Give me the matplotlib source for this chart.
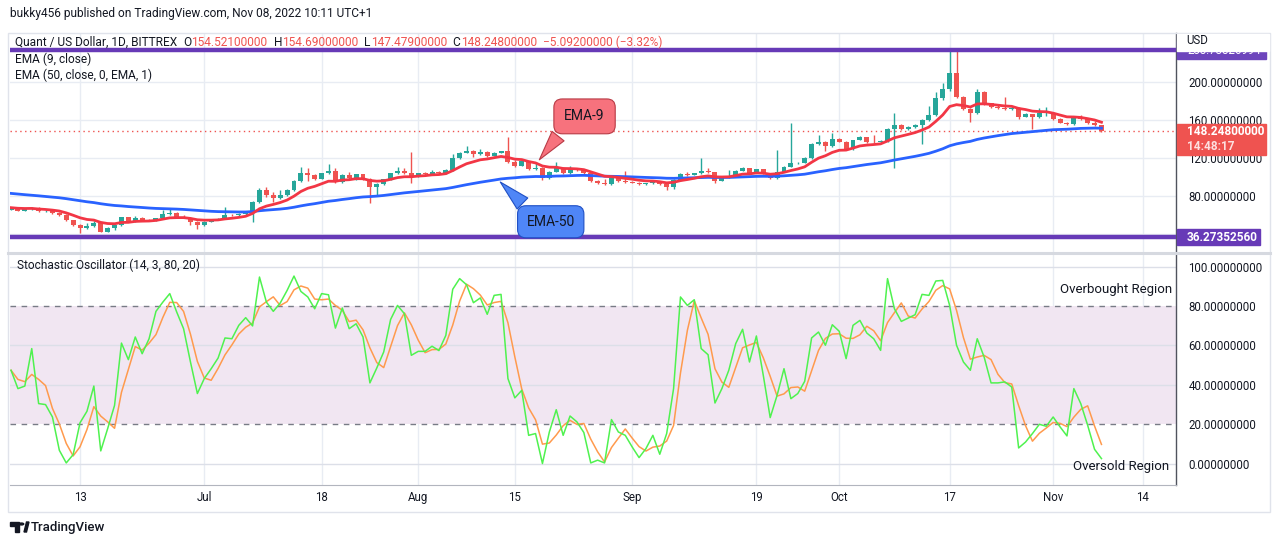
import numpy as np
import pandas as pd
import matplotlib
matplotlib.use('Agg')
import matplotlib.pyplot as plt
from matplotlib.patches import Rectangle, Circle, Polygon
from matplotlib.lines import Line2D

plt.rcParams['font.family'] = ['Roboto', 'DejaVu Sans']

W, H = 1280, 546

# ---- data (QNT/USD daily, Bittrex) ----
dates = pd.date_range('2022-06-03', '2022-11-08', freq='D')
first_open = 65.3
closes = [
    65.9, 64.2, 65.6, 67.0, 63.5, 63.5, 62.1, 60.0, 54.0, 49.4,
    45.9, 48.0, 51.5, 42.0, 45.9, 49.4, 57.1, 52.5, 56.8, 54.3,
    53.8, 56.4, 60.7, 62.1, 57.8, 57.0, 52.5, 49.0, 52.5, 54.3,
    55.4, 59.6, 59.2, 60.7, 63.1, 73.3, 86.0, 80.4, 77.9, 80.8,
    86.1, 95.9, 104.4, 101.6, 98.0, 103.7, 106.2, 94.9, 101.9, 98.4,
    102.6, 97.7, 88.9, 92.4, 97.3, 103.7, 106.5, 103.7, 100.2, 103.7,
    103.0, 105.5, 103.7, 107.2, 119.6, 125.6, 127.7, 124.1, 126.6, 122.4,
    125.6, 127.0, 116.0, 111.8, 116.4, 107.9, 109.0, 98.4, 105.4, 109.7,
    103.7, 108.3, 107.2, 104.4, 95.9, 93.1, 92.0, 98.4, 95.9, 94.9,
    93.8, 92.0, 93.1, 94.9, 92.0, 88.9, 96.6, 103.0, 101.9, 103.7,
    106.5, 104.7, 95.9, 99.4, 100.8, 106.5, 109.0, 104.4, 107.9, 103.0,
    98.4, 105.4, 110.7, 114.3, 115.0, 119.6, 134.7, 137.2, 132.6, 140.0,
    137.2, 129.1, 138.9, 141.8, 137.2, 136.5, 137.8, 150.2, 154.8, 150.2,
    152.3, 154.5, 160.1, 165.4, 183.0, 192.5, 210.2, 184.1, 171.7, 167.9,
    190.1, 177.7, 174.2, 172.8, 171.5, 173.0, 163.6, 166.4, 162.9, 167.2,
    168.0, 161.5, 157.3, 155.9, 162.9, 160.8, 156.6, 154.52, 148.248,
]
highs = [
    67.0, 66.8, 66.5, 68.0, 67.8, 65.0, 64.5, 62.8, 60.5, 54.5,
    50.0, 51.0, 53.0, 52.0, 47.0, 50.5, 57.8, 57.5, 59.0, 57.5,
    55.0, 57.0, 65.0, 65.5, 62.5, 60.0, 57.5, 53.0, 53.5, 55.0,
    56.0, 68.5, 60.5, 61.5, 64.0, 74.0, 88.0, 89.5, 83.5, 86.5,
    87.0, 96.5, 110.0, 109.0, 102.5, 104.5, 114.0, 109.0, 102.5, 105.5,
    103.5, 103.0, 98.5, 93.0, 98.0, 104.5, 110.5, 109.0, 126.6, 104.5,
    105.0, 107.0, 106.5, 108.0, 124.5, 126.5, 132.5, 128.7, 129.0, 127.5,
    126.5, 127.5, 142.5, 118.0, 117.0, 117.0, 116.0, 110.5, 106.0, 116.0,
    110.5, 111.5, 109.5, 108.0, 105.0, 96.5, 97.5, 99.0, 99.0, 106.0,
    96.0, 94.5, 93.8, 95.5, 95.5, 92.5, 97.5, 104.5, 105.5, 104.5,
    119.5, 109.0, 105.5, 100.5, 107.0, 107.5, 110.5, 109.5, 108.5, 108.5,
    104.0, 128.4, 111.5, 157.3, 116.0, 121.0, 135.5, 144.0, 138.0, 146.0,
    141.5, 138.0, 139.5, 143.0, 142.5, 144.5, 138.5, 151.5, 167.2, 156.0,
    153.5, 156.0, 161.5, 175.0, 190.0, 199.0, 234.2, 233.1, 186.0, 173.0,
    192.5, 191.0, 178.5, 176.0, 184.0, 174.0, 174.0, 167.5, 167.0, 172.5,
    173.5, 168.5, 162.0, 158.5, 163.5, 165.0, 161.5, 159.0, 154.69,
]
lows = [
    64.8, 63.5, 63.8, 65.0, 62.8, 62.5, 61.0, 59.0, 53.5, 48.5,
    41.0, 45.0, 46.5, 41.5, 41.5, 44.0, 48.5, 52.0, 52.0, 53.8,
    53.0, 53.5, 56.0, 60.0, 57.0, 56.5, 49.5, 44.5, 48.5, 52.0,
    54.0, 55.0, 58.5, 58.8, 60.0, 52.5, 72.5, 79.0, 73.0, 77.0,
    80.0, 85.5, 95.0, 96.0, 97.0, 97.5, 103.0, 93.0, 94.0, 97.5,
    97.0, 96.5, 72.7, 81.0, 91.5, 96.5, 103.0, 103.0, 94.0, 99.5,
    100.5, 102.5, 103.0, 103.0, 106.5, 119.0, 125.0, 120.5, 123.5, 121.5,
    122.0, 125.0, 115.0, 110.5, 111.0, 107.0, 107.5, 97.0, 97.5, 105.0,
    103.0, 103.0, 106.5, 103.5, 95.0, 92.5, 91.0, 91.5, 95.0, 94.0,
    93.0, 91.0, 91.5, 92.5, 91.5, 86.5, 87.0, 96.0, 101.0, 101.5,
    103.0, 104.0, 93.0, 95.5, 99.0, 100.0, 106.0, 103.5, 104.0, 102.5,
    97.5, 98.0, 105.0, 110.0, 113.5, 114.5, 119.0, 134.0, 127.0, 132.0,
    136.5, 128.5, 128.5, 138.5, 136.0, 136.0, 136.0, 137.0, 109.7, 149.5,
    149.5, 152.0, 134.7, 159.5, 164.5, 181.0, 191.0, 183.0, 170.5, 158.0,
    166.5, 176.5, 173.0, 172.0, 170.5, 170.5, 161.0, 163.0, 151.0, 162.0,
    164.5, 160.5, 156.5, 155.0, 155.0, 160.0, 155.5, 153.5, 147.479,
]
stoch_k = [
    47.4, 38.1, 39.4, 58.4, 30.5, 30.0, 23.7, 6.8, 0.4, 4.6,
    20.8, 26.6, 39.4, 6.5, 17.8, 29.6, 61.2, 52.8, 64.3, 55.8,
    63.4, 77.3, 82.0, 86.3, 77.0, 68.5, 51.6, 35.6, 43.2, 48.2,
    53.6, 63.8, 63.4, 70.2, 74.1, 69.9, 94.7, 82.0, 77.3, 81.5,
    87.9, 95.2, 87.4, 84.6, 78.6, 86.3, 85.7, 68.8, 79.0, 68.5,
    71.0, 64.3, 41.0, 48.6, 56.7, 73.2, 80.3, 76.1, 55.0, 57.0,
    57.0, 59.6, 57.4, 65.1, 88.5, 93.9, 90.8, 81.7, 84.1, 75.8,
    85.4, 85.9, 43.2, 33.4, 37.2, 14.4, 15.3, 0.1, 16.1, 27.4,
    14.4, 24.2, 21.2, 15.8, 0.4, 1.8, 0.4, 22.4, 16.1, 14.4,
    8.5, 3.1, 7.7, 14.4, 4.8, 15.3, 38.1, 84.6, 80.3, 83.2,
    58.4, 55.3, 30.8, 38.1, 47.4, 60.9, 68.2, 51.6, 64.8, 44.8,
    23.4, 34.7, 48.2, 33.0, 35.6, 41.8, 63.8, 66.8, 60.1, 70.5,
    67.2, 53.3, 70.2, 72.7, 66.3, 63.4, 57.5, 93.9, 78.6, 72.2,
    73.9, 75.6, 85.9, 85.4, 92.7, 93.0, 80.3, 60.1, 51.6, 47.4,
    63.4, 54.1, 41.0, 41.0, 41.5, 38.9, 8.0, 11.0, 15.3, 20.0,
    19.0, 23.7, 18.7, 14.1, 38.1, 30.5, 19.5, 7.3, 2.6,
]
ema9_start = 67.4
ema50_start = 82.5
resistance = 233.73826994
support = 36.27352560
last_close = 148.248
price_ticks = [80, 120, 160, 200]
price_grid = [40, 80, 120, 160, 200]
stoch_ticks = [0, 20, 40, 60, 80, 100]
tick_dates = ['2022-06-13', '2022-07-01', '2022-07-18', '2022-08-01', '2022-08-15',
              '2022-09-01', '2022-09-19', '2022-10-01', '2022-10-17', '2022-11-01',
              '2022-11-14']
tick_labels = ['13', 'Jul', '18', 'Aug', '15', 'Sep', '19', 'Oct', '17', 'Nov', '14']

# ---- derived series ----
closes = np.array(closes)
opens = np.r_[first_open, closes[:-1]]
highs = np.array(highs)
lows = np.array(lows)
x = np.array((dates - dates[0]).days)
xt = [(pd.Timestamp(d) - dates[0]).days for d in tick_dates]


def ema(vals, n, start):
    a = 2.0 / (n + 1)
    out = [start]
    for v in vals[1:]:
        out.append(a * v + (1 - a) * out[-1])
    return np.array(out)


ema9 = ema(closes, 9, ema9_start)
ema50 = ema(closes, 50, ema50_start)
stoch_d = pd.Series(stoch_k).rolling(3, min_periods=1).mean().values

UP, DOWN = '#26a69a', '#ef5350'
GRID = '#e8ecf3'
TXT = '#131722'

fig = plt.figure(figsize=(W / 100, H / 100), dpi=100)
fig.patch.set_facecolor('white')


def fbox(x0, y0, x1, y1):
    return [x0 / W, 1 - y1 / H, (x1 - x0) / W, (y1 - y0) / H]


ax1 = fig.add_axes(fbox(10, 33, 1176, 252))
ax2 = fig.add_axes(fbox(10, 253, 1176, 485))
xlim = (-0.15, 168.8)

for ax in (ax1, ax2):
    ax.set_xlim(*xlim)
    for t in xt:
        ax.axvline(t, color=GRID, lw=1, zorder=0)
    for s in ('top', 'left', 'bottom'):
        ax.spines[s].set_visible(False)
    ax.spines['right'].set_color('#50535e')
    ax.spines['right'].set_linewidth(1)
    ax.yaxis.tick_right()
    ax.tick_params(axis='y', length=0, pad=9, labelsize=8.3, labelcolor=TXT)
    ax.set_xticks(xt)
ax1.tick_params(axis='x', length=0, labelbottom=False)
ax2.set_xticklabels(tick_labels)
ax2.tick_params(axis='x', length=0, pad=4, labelsize=8.3, labelcolor=TXT)
ax2.spines['bottom'].set_visible(True)
ax2.spines['bottom'].set_color('#b2b5be')

# ---- price panel ----
ax1.set_ylim(20.5, 252.2)
for p in price_grid:
    ax1.axhline(p, color=GRID, lw=1, zorder=0)
ax1.set_yticks(price_ticks)
ax1.set_yticklabels([f'{v:.8f}' for v in price_ticks])

cols = np.where(closes >= opens, UP, DOWN)
ax1.vlines(x, lows, highs, colors=cols, lw=1, zorder=2)
body = np.maximum(np.abs(closes - opens), 0.5)
ax1.bar(x, body, bottom=np.minimum(opens, closes), width=0.72, color=cols, zorder=3)
ax1.plot(x, ema50, color='#2962ff', lw=2, zorder=4)
ax1.plot(x, ema9, color='#f23645', lw=2, zorder=4)
ax1.axhline(resistance, color='#673ab7', lw=3.2, zorder=5)
ax1.axhline(support, color='#673ab7', lw=3.2, zorder=5)
ax1.axhline(last_close, color='#ef5350', lw=1, ls=(0, (1, 2.5)), zorder=1)

# callouts
ax1.annotate('EMA-9', xy=(76.3, ema9[76] + 1), xytext=(83.1, 164), fontsize=10, color=TXT,
             ha='center', va='center', zorder=6,
             bbox=dict(boxstyle='round,pad=0.75,rounding_size=0.6', fc='#f7727d', ec='#b83a45', lw=0.8),
             arrowprops=dict(arrowstyle='wedge,tail_width=1.1', fc='#f7727d', ec='#b83a45', lw=0.8,
                             relpos=(0.15, 0.2)))
ax1.annotate('EMA-50', xy=(70.6, ema50[70]), xytext=(78.2, 52.5), fontsize=10, color=TXT,
             ha='center', va='center', zorder=6,
             bbox=dict(boxstyle='round,pad=0.65,rounding_size=0.6', fc='#4f86f7', ec='#1f4fc4', lw=0.8),
             arrowprops=dict(arrowstyle='wedge,tail_width=1.1', fc='#4f86f7', ec='#1f4fc4', lw=0.8,
                             relpos=(0.2, 0.85)))

# ---- stochastic panel ----
ax2.set_ylim(-10.8, 106.9)
ax2.axhspan(20, 80, color='#f1e6f2', lw=0, zorder=0)
for v in (0, 40, 60, 100):
    ax2.axhline(v, color='#dcdfe8', lw=1, zorder=0.5)
for v in (20, 80):
    ax2.axhline(v, color='#787b86', lw=1, ls=(0, (4, 4)), zorder=1)
ax2.set_yticks(stoch_ticks)
ax2.set_yticklabels([f'{v:.8f}' for v in stoch_ticks])
ax2.plot(x, stoch_d, color='#ff9a4d', lw=1.1, zorder=3)
ax2.plot(x, stoch_k, color='#4ff24f', lw=1.1, zorder=4)
ax2.text(0.9965, 88.6, 'Overbought Region', transform=ax2.get_yaxis_transform(),
         ha='right', va='center', fontsize=9.5, color=TXT)
ax2.text(0.9945, -1.2, 'Oversold Region', transform=ax2.get_yaxis_transform(),
         ha='right', va='center', fontsize=9.5, color=TXT)
ax2.text(0.006, 100.5, 'Stochastic Oscillator (14, 3, 80, 20)', fontsize=8.6, color=TXT,
         ha='left', va='center', transform=ax2.get_yaxis_transform())

# ---- right scale labels ----
def ypix(ax, v):
    return H - ax.transData.transform((0, v))[1]


def label_box(y0, y1, color, x1=1266):
    fig.add_artist(Rectangle((1177 / W, 1 - y1 / H), (x1 - 1177) / W, (y1 - y0) / H,
                             transform=fig.transFigure, color=color, zorder=10))


yr = ypix(ax1, resistance)
label_box(yr - 9, yr + 9, '#6d45bc')
fig.text(1187 / W, 1 - yr / H, f'{resistance:.8f}', color='white', fontsize=8.3,
         va='center', zorder=11)
fig.add_artist(Rectangle((1177 / W, 1 - (yr + 0.5) / H), 92 / W, (yr + 0.5 - 33.5) / H,
                         transform=fig.transFigure, color='white', zorder=12))
fig.text(1186 / W, 1 - 41 / H, 'USD', color=TXT, fontsize=8.3, va='center', zorder=13)

ys = ypix(ax1, support)
label_box(ys - 8, ys + 8, '#673ab7', 1260)
fig.text(1187 / W, 1 - ys / H, f'{support:.8f}', color='white', fontsize=8.5,
         fontweight='bold', va='center', zorder=11)

yc = ypix(ax1, last_close)
label_box(yc - 7.5, yc + 23.5, '#ef5350')
fig.text(1187 / W, 1 - yc / H, f'{last_close:.8f}', color='white', fontsize=8.5,
         fontweight='bold', va='center', zorder=11)
fig.text(1187 / W, 1 - (yc + 15) / H, '14:48:17', color='#fde0e0', fontsize=8.5,
         fontweight='bold', va='center', zorder=11)

# ---- frame ----
fig.add_artist(Rectangle((8 / W, 1 - 512 / H), 1262 / W, 479 / H, fill=False,
                         ec='#e0e3eb', lw=1, transform=fig.transFigure))
fig.add_artist(Line2D([8 / W, 1270 / W], [1 - 252.5 / H] * 2, color='#d6d9e0', lw=2.2))

# ---- header texts ----
fig.text(10 / W, 1 - 14 / H, 'bukky456 published on TradingView.com, Nov 08, 2022 10:11 UTC+1',
         fontsize=8.6, color=TXT, va='center')
renderer = fig.canvas.get_renderer()
pieces = [('Quant / US Dollar, 1D, BITTREX  ', TXT), ('O', TXT), ('154.52100000', DOWN),
          ('  H', TXT), ('154.69000000', DOWN), ('  L', TXT), ('147.47900000', DOWN),
          ('  C', TXT), ('148.24800000', DOWN), ('  −5.09200000 (−3.32%)', DOWN)]
xp = 15
for s, c in pieces:
    t = fig.text(xp / W, 1 - 42 / H, s, fontsize=8.6, color=c, va='center')
    xp += t.get_window_extent(renderer).width
fig.text(15 / W, 1 - 59 / H, 'EMA (9, close)', fontsize=8.6, color=TXT, va='center')
fig.text(15 / W, 1 - 75 / H, 'EMA (50, close, 0, EMA, 1)', fontsize=8.6, color=TXT, va='center')

# ---- footer logo ----
fig.add_artist(Polygon([(10 / W, 1 - 522 / H), (19 / W, 1 - 522 / H), (19 / W, 1 - 532 / H),
                        (15 / W, 1 - 532 / H), (15 / W, 1 - 526 / H), (10 / W, 1 - 526 / H)],
                       closed=True, transform=fig.transFigure, color=TXT))
fig.add_artist(Circle((21.5 / W, 1 - 524 / H), 2.2 / W, transform=fig.transFigure, color=TXT))
fig.add_artist(Polygon([(24 / W, 1 - 532 / H), (26.5 / W, 1 - 522 / H), (29 / W, 1 - 522 / H),
                        (26.5 / W, 1 - 532 / H)], closed=True, transform=fig.transFigure, color=TXT))
fig.text(31 / W, 1 - 527.5 / H, 'TradingView', fontsize=9.5, color=TXT, va='center',
         fontweight='medium')

fig.savefig('out.png', dpi=100)
